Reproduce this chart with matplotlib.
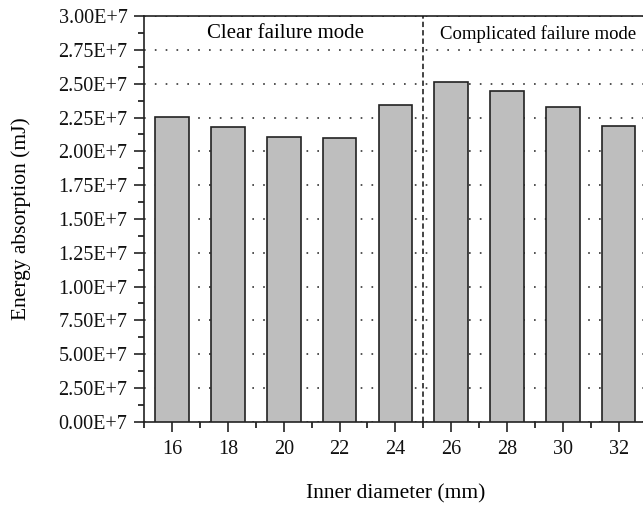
import matplotlib
matplotlib.use("Agg")
import matplotlib.pyplot as plt
from matplotlib.ticker import FixedLocator, FixedFormatter, MultipleLocator

plt.rcParams['font.family'] = ['Liberation Serif', 'DejaVu Serif']

diameters = [16, 18, 20, 22, 24, 26, 28, 30, 32]
energy = [2.255e7, 2.177e7, 2.107e7, 2.098e7, 2.344e7, 2.514e7, 2.448e7, 2.325e7, 2.184e7]
ytick_vals = [0, 0.25e7, 0.5e7, 0.75e7, 1.0e7, 1.25e7, 1.5e7, 1.75e7, 2.0e7, 2.25e7, 2.5e7, 2.75e7, 3.0e7]
ytick_labels = ["0.00E+7", "2.50E+7", "5.00E+7", "7.50E+7", "1.00E+7", "1.25E+7", "1.50E+7",
                "1.75E+7", "2.00E+7", "2.25E+7", "2.50E+7", "2.75E+7", "3.00E+7"]
xtick_vals = [16, 18, 20, 22, 24, 26, 28, 30, 32]
divider_x = 25
region_labels = ["Clear failure mode", "Complicated failure mode"]

fig = plt.figure(figsize=(6.43, 5.05), dpi=100)
ax = fig.add_axes([0.2244, 0.165, 0.781, 0.803])

ax.bar(diameters, energy, width=1.2, color='#bebebe', edgecolor='#222222', linewidth=1.2, zorder=3)

ax.set_xlim(15, 33)
ax.set_ylim(0, 3.0e7)

ax.yaxis.set_major_locator(FixedLocator(ytick_vals))
ax.yaxis.set_major_formatter(FixedFormatter(ytick_labels))
ax.yaxis.set_minor_locator(MultipleLocator(0.125e7))
ax.xaxis.set_major_locator(FixedLocator(xtick_vals))
ax.xaxis.set_minor_locator(MultipleLocator(1))

ax.tick_params(axis='both', which='major', direction='out', length=7, width=1.1, labelsize=14.5, colors='#111111')
ax.tick_params(axis='both', which='minor', direction='out', length=4, width=1.1)
ax.tick_params(axis='x', which='major', pad=6)
ax.tick_params(axis='y', which='major', pad=5)

ax.grid(axis='y', which='major', linestyle=(0, (1, 5.5)), color='#333333', linewidth=1.2, zorder=0)
ax.set_axisbelow(True)

for s in ax.spines.values():
    s.set_linewidth(1.2)
    s.set_color('#222222')

ax.axvline(divider_x, color='#111111', linestyle=(0, (3.5, 2)), linewidth=1.1, zorder=4)

ax.text(20.05, 2.87e7, region_labels[0], ha='center', va='center', fontsize=15)
ax.text(29.1, 2.87e7, region_labels[1], ha='center', va='center', fontsize=13.5)

ax.set_xlabel("Inner diameter (mm)", fontsize=15.5, labelpad=18.5)
ax.set_ylabel("Energy absorption (mJ)", fontsize=15.5, labelpad=20)

fig.savefig("out.png", dpi=100)
